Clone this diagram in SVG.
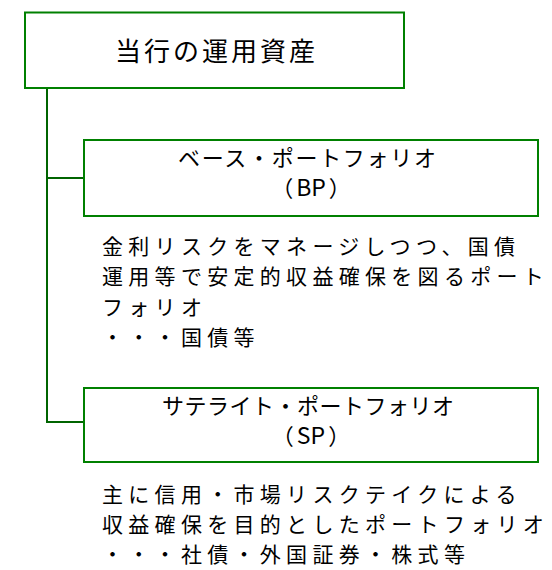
<svg xmlns="http://www.w3.org/2000/svg" width="552" height="570" viewBox="0 0 552 570">
<style>
.box{fill:#fff;stroke:#008000;stroke-width:2}
.conn{fill:none;stroke:#006400;stroke-width:2}
text{font-family:"Noto Sans CJK JP","Noto Sans",sans-serif;fill:#000}
.t{font-size:26px;letter-spacing:3px}
.h{font-size:22px}
.hc{font-size:22px;text-anchor:middle}
.lat{font-size:23px}
.b{font-size:21px;letter-spacing:5.3px}
</style>
<rect width="552" height="570" fill="#fff"/>
<g id="connectors">
<path class="conn" d="M47,88 V422 H84"/>
<path class="conn" d="M47,178 H84"/>
</g>
<g id="root">
<rect class="box" x="25" y="12.5" width="379" height="75.5"/>
<text class="t" x="115" y="61">当行の運用資産</text>
</g>
<g id="bp">
<rect class="box" x="84" y="140" width="454" height="76"/>
<text class="h" x="178" y="166" textLength="258" lengthAdjust="spacing">ベース・ポートフォリオ</text>
<text class="hc" x="311" y="196">（<tspan class="lat" dx="3">BP</tspan><tspan dx="3">）</tspan></text>
</g>
<g id="bp-desc">
<text class="b" x="102" y="254">金利リスクをマネージしつつ、国債</text>
<text class="b" x="102" y="284">運用等で安定的収益確保を図るポート</text>
<text class="b" x="102" y="315">フォリオ</text>
<text class="b" x="102" y="345">・・・国債等</text>
</g>
<g id="sp">
<rect class="box" x="84" y="388" width="454" height="74"/>
<text class="h" x="162" y="414" textLength="292" lengthAdjust="spacing">サテライト・ポートフォリオ</text>
<text class="hc" x="311" y="444">（<tspan class="lat" dx="3">SP</tspan><tspan dx="3">）</tspan></text>
</g>
<g id="sp-desc">
<text class="b" x="102" y="502">主に信用・市場リスクテイクによる</text>
<text class="b" x="102" y="532">収益確保を目的としたポートフォリオ</text>
<text class="b" x="102" y="562">・・・社債・外国証券・株式等</text>
</g>
</svg>
